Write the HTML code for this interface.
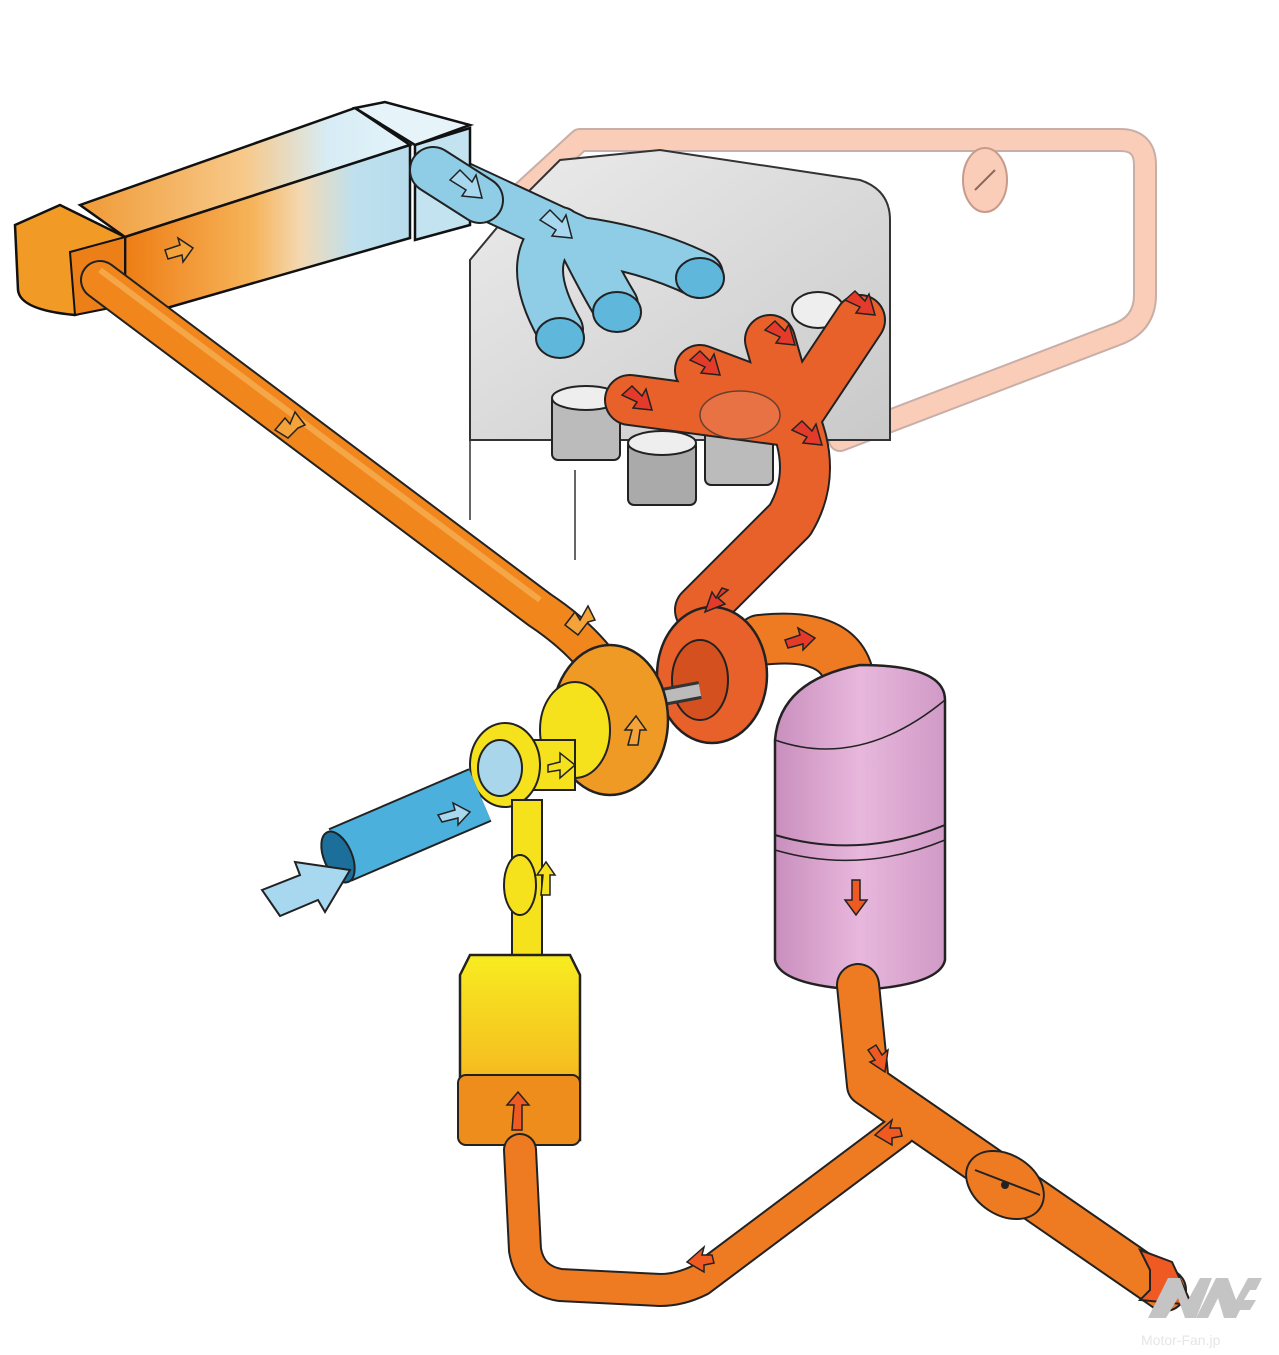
<!DOCTYPE html>
<html><head><meta charset="utf-8"><style>html,body{margin:0;padding:0;background:#fff}svg{display:block}</style></head>
<body>
<svg width="1279" height="1355" viewBox="0 0 1279 1355" xmlns="http://www.w3.org/2000/svg">
<defs>
<linearGradient id="ic" x1="0" y1="0" x2="1" y2="0">
<stop offset="0" stop-color="#ee7d14"/><stop offset="0.45" stop-color="#f6b45a"/><stop offset="0.62" stop-color="#f3d9b4"/><stop offset="0.8" stop-color="#bfe0ee"/><stop offset="1" stop-color="#b7dcec"/></linearGradient>
<linearGradient id="ict" x1="0" y1="0" x2="1" y2="0">
<stop offset="0" stop-color="#f09a35"/><stop offset="0.5" stop-color="#f7c98a"/><stop offset="0.75" stop-color="#d7ecf5"/><stop offset="1" stop-color="#e3f3fa"/></linearGradient>
<linearGradient id="gr" x1="0" y1="0" x2="1" y2="1"><stop offset="0" stop-color="#ececec"/><stop offset="1" stop-color="#c9c9c9"/></linearGradient>
<linearGradient id="yb" x1="0" y1="0" x2="0" y2="1"><stop offset="0" stop-color="#f7ec20"/><stop offset="0.6" stop-color="#f6c020"/><stop offset="1" stop-color="#ee8a1a"/></linearGradient>
<linearGradient id="pk" x1="0" y1="0" x2="1" y2="0"><stop offset="0" stop-color="#c98fbd"/><stop offset="0.5" stop-color="#e8b7dc"/><stop offset="1" stop-color="#d09ac6"/></linearGradient>
</defs>

<!-- pink wastegate loop -->
<path d="M520 195 L580 140 L1120 140 Q1145 140 1145 165 L1145 295 Q1145 325 1115 335 L840 440" fill="none" stroke="#9c6b5e" stroke-width="24" stroke-linecap="round" stroke-linejoin="round" opacity="0.55"/>
<path d="M520 195 L580 140 L1120 140 Q1145 140 1145 165 L1145 295 Q1145 325 1115 335 L840 440" fill="none" stroke="#f9cdb8" stroke-width="20" stroke-linecap="round" stroke-linejoin="round"/>
<ellipse cx="985" cy="180" rx="22" ry="32" fill="#f9cdb8" stroke="#c79b8a" stroke-width="2"/>
<line x1="975" y1="190" x2="995" y2="170" stroke="#8a6a60" stroke-width="2"/>

<!-- engine block -->
<path d="M470 260 L520 200 L560 160 L660 150 L860 180 Q890 190 890 220 L890 440 L470 440 Z" fill="url(#gr)" stroke="#333" stroke-width="2"/>
<line x1="470" y1="410" x2="470" y2="520" stroke="#333" stroke-width="1.5"/>
<line x1="575" y1="470" x2="575" y2="560" stroke="#333" stroke-width="1.5"/>
<!-- pistons -->
<g stroke="#222" stroke-width="2">
<rect x="552" y="395" width="68" height="65" rx="6" fill="#bbb"/><ellipse cx="586" cy="398" rx="34" ry="12" fill="#eee"/>
<rect x="628" y="440" width="68" height="65" rx="6" fill="#aaa"/><ellipse cx="662" cy="443" rx="34" ry="12" fill="#eee"/>
<rect x="705" y="420" width="68" height="65" rx="6" fill="#bbb"/><ellipse cx="739" cy="423" rx="34" ry="12" fill="#eee"/>
</g>

<!-- intake manifold (blue) -->
<g fill="none" stroke-linecap="round">
<path d="M440 175 L580 240 M560 230 Q520 260 560 330 M580 240 Q600 280 615 305 M580 240 Q650 250 700 275" stroke="#222" stroke-width="48"/>
<path d="M440 175 L580 240 M560 230 Q520 260 560 330 M580 240 Q600 280 615 305 M580 240 Q650 250 700 275" stroke="#8fcde6" stroke-width="44"/>
</g>
<ellipse cx="560" cy="338" rx="24" ry="20" fill="#5fb7dc" stroke="#222" stroke-width="2"/>
<ellipse cx="617" cy="312" rx="24" ry="20" fill="#5fb7dc" stroke="#222" stroke-width="2"/>
<ellipse cx="700" cy="278" rx="24" ry="20" fill="#5fb7dc" stroke="#222" stroke-width="2"/>
<ellipse cx="818" cy="310" rx="26" ry="18" fill="#eee" stroke="#222" stroke-width="2"/>

<!-- intercooler -->
<polygon points="80,205 355,108 410,145 125,237" fill="url(#ict)" stroke="#111" stroke-width="2.5"/>
<polygon points="125,237 410,145 410,238 125,320" fill="url(#ic)" stroke="#111" stroke-width="2.5"/>
<polygon points="355,108 385,102 470,125 415,145" fill="#e6f4fa" stroke="#111" stroke-width="2.5"/>
<polygon points="415,145 470,128 470,225 415,240" fill="#c3e3f1" stroke="#111" stroke-width="2.5"/>
<path d="M15 225 L60 205 L125 237 L125 300 L75 315 Q20 310 18 290 Z" fill="#f19b26" stroke="#111" stroke-width="2.5"/>
<path d="M70 252 L125 237 L125 305 L75 315 Z" fill="#ec7f18" stroke="#111" stroke-width="2"/>
<path d="M433 170 L480 200" stroke="#222" stroke-width="48" stroke-linecap="round"/>
<path d="M433 170 L480 200" stroke="#8fcde6" stroke-width="44" stroke-linecap="round"/>

<!-- cold charge pipe to intercooler -->
<path d="M100 280 L540 610 Q600 650 620 700" fill="none" stroke="#222" stroke-width="40" stroke-linecap="round"/>
<path d="M100 280 L540 610 Q600 650 620 700" fill="none" stroke="#f0861c" stroke-width="36" stroke-linecap="round"/>
<path d="M100 270 L540 600" fill="none" stroke="#f7b35a" stroke-width="6" opacity="0.7"/>

<!-- exhaust manifold -->
<g fill="none" stroke-linecap="round" stroke-linejoin="round">
<path d="M630 400 L780 420 M700 370 L780 400 M770 340 L790 410 M860 320 L800 410 M790 410 Q820 470 790 520 Q740 570 700 610" stroke="#222" stroke-width="52"/>
<path d="M630 400 L780 420 M700 370 L780 400 M770 340 L790 410 M860 320 L800 410 M790 410 Q820 470 790 520 Q740 570 700 610" stroke="#e8602a" stroke-width="48"/>
</g>
<ellipse cx="740" cy="415" rx="40" ry="24" fill="#e87a50" opacity="0.7" stroke="#333" stroke-width="1.5"/>

<!-- turbine housing -->
<path d="M760 640 Q850 630 850 690 L850 720" fill="none" stroke="#222" stroke-width="52" stroke-linecap="round"/>
<path d="M760 640 Q850 630 850 690 L850 720" fill="none" stroke="#ee7a22" stroke-width="48" stroke-linecap="round"/>
<ellipse cx="712" cy="675" rx="55" ry="68" fill="#e8602a" stroke="#222" stroke-width="2.5"/>
<ellipse cx="700" cy="680" rx="28" ry="40" fill="#d4501f" stroke="#222" stroke-width="2"/>
<!-- shaft -->
<line x1="620" y1="705" x2="700" y2="690" stroke="#333" stroke-width="18"/>
<line x1="620" y1="705" x2="700" y2="690" stroke="#bbb" stroke-width="12"/>
<!-- compressor -->
<ellipse cx="610" cy="720" rx="58" ry="75" fill="#ef9a24" stroke="#222" stroke-width="2.5"/>
<ellipse cx="575" cy="730" rx="35" ry="48" fill="#f6e21c" stroke="#222" stroke-width="2"/>
<rect x="500" y="740" width="75" height="50" fill="#f6e21c" stroke="#222" stroke-width="2"/>
<ellipse cx="505" cy="765" rx="35" ry="42" fill="#f6e21c" stroke="#222" stroke-width="2"/>
<ellipse cx="500" cy="768" rx="22" ry="28" fill="#a9d6ea" stroke="#222" stroke-width="2"/>
<!-- blue intake -->
<path d="M340 855 L480 795" stroke="#222" stroke-width="58" stroke-linecap="butt"/>
<path d="M340 855 L480 795" stroke="#4cb0dc" stroke-width="54"/>
<ellipse cx="338" cy="857" rx="14" ry="27" fill="#1c6f9a" stroke="#222" stroke-width="2" transform="rotate(-23 338 857)"/>
<polygon points="262,890 300,875 295,862 350,870 325,912 318,900 280,916" fill="#a7d8ef" stroke="#222" stroke-width="2"/>
<!-- yellow pipe / filter -->
<rect x="512" y="800" width="30" height="170" fill="#f6e21c" stroke="#222" stroke-width="2"/>
<ellipse cx="520" cy="885" rx="16" ry="30" fill="#f6e21c" stroke="#222" stroke-width="2"/>
<path d="M460 975 L470 955 L570 955 L580 975 L580 1140 L460 1140 Z" fill="url(#yb)" stroke="#222" stroke-width="2.5"/>
<rect x="458" y="1075" width="122" height="70" rx="8" fill="#ee8c1c" stroke="#222" stroke-width="2"/>

<!-- muffler -->
<path d="M775 740 Q780 680 860 665 Q945 665 945 700 L945 960 Q940 985 860 990 Q780 985 775 960 Z" fill="url(#pk)" stroke="#222" stroke-width="2.5"/>
<path d="M775 835 Q860 860 945 825" fill="none" stroke="#222" stroke-width="2"/>
<path d="M775 850 Q860 875 945 840" fill="none" stroke="#222" stroke-width="1.5"/>
<path d="M775 740 Q860 770 945 700" fill="none" stroke="#222" stroke-width="1.5"/>

<!-- tailpipe and return -->
<g fill="none" stroke-linecap="round" stroke-linejoin="round">
<path d="M858 985 L868 1085 L1165 1290" stroke="#222" stroke-width="44"/>
<path d="M900 1130 L700 1280 Q680 1290 660 1290 L560 1285 Q530 1280 525 1250 L520 1150" stroke="#222" stroke-width="34"/>
<path d="M858 985 L868 1085 L1165 1290" stroke="#ee7a22" stroke-width="40"/>
<path d="M900 1130 L700 1280 Q680 1290 660 1290 L560 1285 Q530 1280 525 1250 L520 1150" stroke="#ee7a22" stroke-width="30"/>
</g>
<ellipse cx="1005" cy="1185" rx="42" ry="30" fill="#ee7a22" stroke="#222" stroke-width="2" transform="rotate(33 1005 1185)"/>
<line x1="975" y1="1170" x2="1040" y2="1195" stroke="#222" stroke-width="2"/>
<circle cx="1005" cy="1185" r="4" fill="#222"/>
<polygon points="1150,1270 1140,1250 1172,1262 1192,1305 1140,1300 1150,1290" fill="#ee5a22" stroke="#222" stroke-width="2"/>

<!-- arrows -->
<g stroke="#222" stroke-width="1.5">
<polygon points="165,250 180,245 178,238 193,248 183,262 182,255 168,259" fill="#f4a23a"/>
<polygon points="275,430 285,418 290,424 295,412 305,425 298,428 288,438" fill="#f4a23a"/>
<polygon points="565,625 575,612 580,620 588,606 595,620 588,622 578,635" fill="#f4a23a"/>
<polygon points="438,815 455,810 453,803 470,812 458,825 458,818 442,822" fill="#a7d8ef"/>
<polygon points="548,765 560,762 560,753 575,765 560,778 560,770 548,772" fill="#f6e21c"/>
<polygon points="628,745 632,730 625,730 636,716 646,730 640,730 638,745" fill="#f4a23a"/>
<polygon points="541,895 543,875 537,875 546,862 555,875 550,875 550,895" fill="#f6e21c"/>
<polygon points="512,1130 514,1105 507,1105 518,1092 529,1105 522,1105 522,1130" fill="#ee5a22"/>
<polygon points="852,880 852,900 845,900 856,915 867,900 860,900 860,880" fill="#ee5a22"/>
<polygon points="450,180 460,170 472,182 476,175 482,198 462,196 466,190" fill="#a7d8ef"/>
<polygon points="540,220 550,210 562,222 566,215 572,238 552,236 556,230" fill="#a7d8ef"/>
<polygon points="622,395 632,386 642,396 646,389 652,410 633,408 637,402" fill="#e33a2a"/>
<polygon points="690,360 700,351 710,361 714,354 720,375 701,373 705,367" fill="#e33a2a"/>
<polygon points="765,330 775,321 785,331 789,324 795,345 776,343 780,337" fill="#e33a2a"/>
<polygon points="845,300 855,291 865,301 869,294 875,315 856,313 860,307" fill="#e33a2a"/>
<polygon points="792,430 802,421 812,431 816,424 822,445 803,443 807,437" fill="#e33a2a"/>
<polygon points="728,590 718,598 725,604 705,612 712,592 716,598 722,588" fill="#e33a2a"/>
<polygon points="785,640 800,635 798,628 815,638 803,650 803,644 788,648" fill="#e33a2a"/>
<polygon points="868,1050 876,1045 882,1055 888,1050 885,1072 870,1062 875,1060" fill="#ee5a22"/>
<polygon points="900,1128 890,1128 892,1120 875,1135 892,1145 892,1138 902,1136" fill="#ee5a22"/>
<polygon points="712,1255 702,1255 704,1247 687,1262 704,1272 704,1265 714,1263" fill="#ee5a22"/>
</g>

<!-- logo -->
<g fill="#c4c4c4">
<polygon points="1148,1318 1168,1278 1180,1278 1188,1300 1200,1278 1212,1278 1196,1318 1185,1318 1178,1298 1166,1318"/>
<polygon points="1196,1318 1216,1278 1228,1278 1236,1300 1248,1278 1262,1278 1256,1290 1250,1290 1244,1300 1256,1300 1250,1310 1240,1310 1236,1318 1224,1318 1218,1298 1208,1318"/>
</g>
<text x="1141" y="1345" font-family="Liberation Sans, sans-serif" font-size="14" fill="#e6e6e6">Motor-Fan.jp</text>
</svg>
</body></html>
